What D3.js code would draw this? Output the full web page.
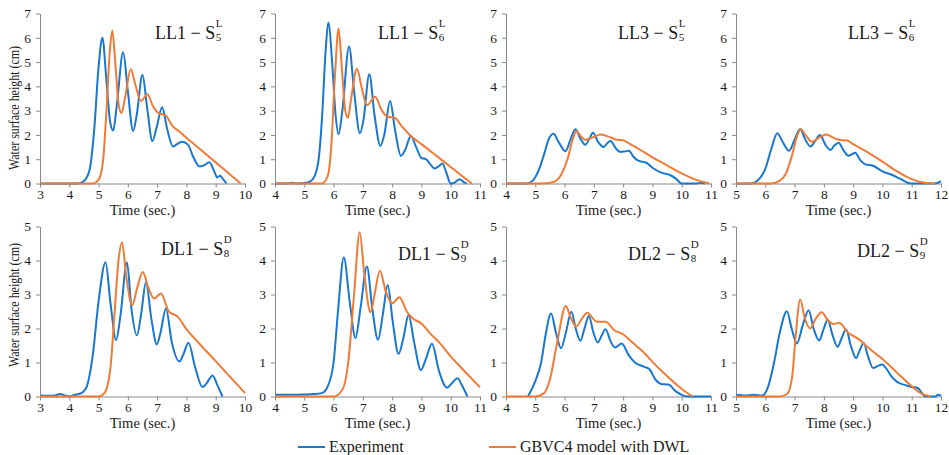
<!DOCTYPE html>
<meta charset="utf-8">
<head>
<style>
  body { margin: 0; background: #fff; }
  svg text { font-family: "Liberation Serif"; fill: #1a1a1a; }
  .axis text { font-family: "Liberation Serif"; font-size: 13.5px; }
  .axis path, .axis line { stroke: #8a8a8a; stroke-width: 1px; }
  .exp { fill: none; stroke: #1877d0; stroke-width: 2px; }
  .model { fill: none; stroke: #f07b36; stroke-width: 2px; }
</style>
<script src="https://d3js.org/d3.v7.min.js"></script>
</head>
<body>
<svg width="949" height="455"></svg>
<script>
// panel names (title = name − S with sub / sup)
var titleNames = ["LL1", "LL1", "LL3", "LL3", "DL1", "DL1", "DL2", "DL2"];
var titleSubs = ["5", "6", "5", "6", "8", "9", "8", "9"];
var titleSups = ["L", "L", "L", "L", "D", "D", "D", "D"];
var xRanges = [[3, 10], [4, 11], [4, 11], [5, 12], [3, 10], [4, 11], [4, 11], [5, 12]];
var yMaxes = [7, 7, 7, 7, 5, 5, 5, 5];

// experiment series [time, height]
var ll1s5Exp = [[3,0],[4.3,0],[4.5,0.1],[4.7,0.6],[4.85,2.2],[5.0,4.8],[5.13,6.0],[5.27,4.2],[5.4,2.5],[5.5,2.18],[5.62,3.2],[5.84,5.4],[6.0,3.8],[6.18,2.16],[6.3,2.8],[6.5,4.48],[6.65,3.2],[6.84,1.75],[6.98,2.3],[7.17,3.14],[7.35,2.2],[7.54,1.52],[7.65,1.6],[7.85,1.72],[8.05,1.6],[8.25,1.05],[8.45,0.7],[8.6,0.75],[8.78,0.87],[8.95,0.5],[9.05,0.25],[9.15,0.32],[9.27,0.15],[9.37,0]];
var ll1s6Exp = [[4,0],[4.5,0.01],[4.6,0.03],[4.75,0],[5.0,0.02],[5.2,0.08],[5.35,0.3],[5.5,1.1],[5.62,3.0],[5.72,5.3],[5.83,6.63],[5.95,5.0],[6.07,2.8],[6.17,2.03],[6.3,3.0],[6.53,5.64],[6.7,3.8],[6.9,2.07],[7.02,2.6],[7.22,4.5],[7.4,2.8],[7.6,1.55],[7.73,2.0],[7.93,3.4],[8.1,2.2],[8.3,1.14],[8.45,1.4],[8.64,1.96],[8.82,1.5],[9.0,1.05],[9.15,1.0],[9.3,0.8],[9.45,0.62],[9.6,0.72],[9.72,0.82],[9.85,0.45],[10.0,0],[10.15,0.05],[10.3,0.18],[10.45,0.05],[10.55,0]];
var ll3s5Exp = [[4,0],[4.7,0],[4.9,0.1],[5.1,0.5],[5.3,1.2],[5.45,1.8],[5.62,2.05],[5.8,1.7],[6.03,1.33],[6.2,1.8],[6.37,2.23],[6.52,1.9],[6.71,1.6],[6.85,1.85],[6.97,2.09],[7.15,1.7],[7.34,1.5],[7.45,1.65],[7.57,1.75],[7.75,1.45],[7.91,1.3],[8.05,1.32],[8.2,1.35],[8.35,1.1],[8.5,0.95],[8.8,0.85],[9.0,0.65],[9.3,0.45],[9.6,0.35],[9.8,0.2],[10.0,0],[10.5,0],[10.65,0.03],[10.8,0]];
var ll3s6Exp = [[5,0],[5.5,0],[5.8,0.2],[6.0,0.6],[6.2,1.4],[6.41,2.07],[6.6,1.7],[6.81,1.35],[7.0,1.8],[7.19,2.24],[7.35,1.85],[7.55,1.52],[7.7,1.75],[7.87,2.0],[8.05,1.6],[8.22,1.38],[8.35,1.55],[8.5,1.68],[8.68,1.35],[8.84,1.14],[8.95,1.2],[9.07,1.27],[9.25,0.95],[9.4,0.8],[9.7,0.72],[10.0,0.5],[10.3,0.37],[10.6,0.2],[10.97,0],[11.8,0],[12,0.1]];
var dl1s8Exp = [[3,0.03],[3.3,0.02],[3.5,0.03],[3.7,0.07],[3.85,0.03],[4.0,0],[4.2,0.05],[4.35,0.08],[4.45,0.12],[4.6,0.3],[4.8,1.2],[5.0,2.8],[5.24,3.95],[5.4,2.8],[5.6,1.66],[5.75,2.4],[5.97,3.94],[6.12,2.6],[6.31,1.8],[6.45,2.4],[6.62,3.37],[6.8,2.3],[6.99,1.53],[7.12,1.9],[7.3,2.59],[7.5,1.6],[7.76,1.03],[7.9,1.25],[8.07,1.58],[8.3,0.85],[8.55,0.27],[8.7,0.4],[8.89,0.62],[9.05,0.35],[9.23,0]];
var dl1s9Exp = [[4,0.05],[4.5,0.05],[5.0,0.06],[5.3,0.07],[5.6,0.1],[5.8,0.3],[6.0,1.0],[6.15,2.5],[6.35,4.09],[6.55,2.8],[6.75,1.72],[6.92,2.6],[7.14,3.82],[7.32,2.6],[7.52,1.67],[7.68,2.4],[7.85,3.28],[8.02,2.2],[8.22,1.25],[8.38,1.7],[8.56,2.4],[8.75,1.6],[8.98,0.78],[9.15,1.1],[9.36,1.55],[9.6,0.75],[9.87,0.26],[10.05,0.4],[10.23,0.54],[10.4,0.3],[10.57,0]];
var dl2s8Exp = [[4.75,0],[5.0,0.45],[5.2,1.0],[5.35,1.8],[5.54,2.44],[5.7,1.9],[5.88,1.42],[6.05,1.9],[6.23,2.49],[6.38,2.0],[6.54,1.64],[6.68,2.0],[6.83,2.37],[6.98,1.9],[7.13,1.59],[7.27,1.8],[7.4,1.98],[7.56,1.65],[7.72,1.44],[7.95,1.56],[8.2,1.2],[8.4,1.0],[8.7,0.88],[8.9,0.8],[9.1,0.5],[9.3,0.37],[9.55,0.35],[9.8,0.15],[10.0,0.05],[10.2,0],[10.9,0],[11,0.01]];
var dl2s9Exp = [[5,0.02],[5.1,0.05],[5.3,0.03],[5.6,0.05],[5.9,0.03],[6.1,0.3],[6.3,1.0],[6.5,1.9],[6.74,2.51],[6.9,2.0],[7.08,1.56],[7.28,2.1],[7.48,2.54],[7.65,2.0],[7.84,1.65],[7.98,1.95],[8.13,2.26],[8.3,1.8],[8.47,1.46],[8.6,1.7],[8.76,1.97],[8.92,1.5],[9.1,1.13],[9.22,1.35],[9.36,1.57],[9.5,1.2],[9.68,0.84],[9.85,0.9],[9.99,0.94],[10.15,0.8],[10.3,0.6],[10.5,0.43],[10.8,0.33],[11.0,0.28],[11.2,0.25],[11.35,0.1],[11.45,0],[11.8,0],[11.9,0.05],[12,0.03]];

// GBVC4 model with DWL series
var ll1s5Model = [[3,0],[4.8,0],[5.0,0.15],[5.15,0.9],[5.27,3.0],[5.38,5.4],[5.47,6.3],[5.57,5.0],[5.68,3.3],[5.78,2.9],[5.9,3.5],[6.1,4.7],[6.25,4.1],[6.45,3.4],[6.67,3.68],[6.85,3.2],[7.05,2.9],[7.3,2.8],[7.5,2.4],[7.8,2.1],[8.0,1.88],[8.5,1.38],[9.0,0.87],[9.5,0.36],[9.85,0]];
var ll1s6Model = [[4,0],[5.6,0],[5.8,0.3],[5.92,1.5],[6.05,4.5],[6.17,6.38],[6.28,4.8],[6.4,3.0],[6.49,2.7],[6.6,3.5],[6.8,4.73],[6.95,4.0],[7.14,3.22],[7.42,3.57],[7.65,3.0],[7.85,2.75],[8.1,2.7],[8.3,2.4],[8.6,2.0],[9.0,1.62],[9.5,1.15],[10.0,0.68],[10.4,0.3],[10.72,0]];
var ll3s5Model = [[4,0],[5.2,0],[5.6,0.05],[5.9,0.4],[6.1,1.0],[6.3,1.9],[6.4,2.16],[6.55,1.95],[6.71,1.8],[7.0,1.92],[7.23,2.02],[7.5,1.93],[7.8,1.8],[8.0,1.78],[8.2,1.65],[8.5,1.45],[9.0,1.08],[9.5,0.75],[10.0,0.42],[10.5,0.15],[10.95,0]];
var ll3s6Model = [[5,0],[6.2,0],[6.5,0.12],[6.7,0.4],[6.9,1.1],[7.1,2.0],[7.21,2.23],[7.4,1.95],[7.59,1.72],[7.85,1.9],[8.08,2.02],[8.3,1.9],[8.5,1.8],[8.8,1.77],[9.0,1.62],[9.5,1.28],[10.0,0.9],[10.5,0.5],[11.0,0.18],[11.5,0.02],[11.8,0]];
var dl1s8Model = [[3,0],[5.0,0],[5.2,0.1],[5.4,0.8],[5.55,2.5],[5.68,4.0],[5.8,4.54],[5.95,3.5],[6.15,2.69],[6.32,3.2],[6.51,3.66],[6.7,3.2],[6.9,2.88],[7.13,3.03],[7.4,2.5],[7.7,2.35],[8.0,1.98],[8.5,1.5],[9.0,1.04],[9.5,0.57],[10,0.1]];
var dl1s9Model = [[4,0],[6.0,0],[6.3,0.2],[6.5,1.0],[6.7,3.0],[6.89,4.83],[7.05,3.6],[7.26,2.48],[7.4,3.0],[7.58,3.7],[7.78,3.1],[8.0,2.74],[8.25,2.92],[8.5,2.5],[8.7,2.3],[9.0,2.15],[9.3,1.85],[9.6,1.6],[10.0,1.18],[10.5,0.72],[11,0.27]];
var dl2s8Model = [[4,0],[5.0,0],[5.3,0.1],[5.5,0.5],[5.75,1.6],[6.04,2.66],[6.22,2.3],[6.4,2.06],[6.6,2.3],[6.77,2.46],[7.1,2.2],[7.4,2.2],[7.7,1.95],[8.0,1.83],[8.3,1.6],[8.7,1.3],[9.0,1.02],[9.5,0.6],[10.0,0.22],[10.37,0]];
var dl2s9Model = [[5,0],[6.5,0],[6.75,0.08],[6.92,0.6],[7.05,1.9],[7.19,2.85],[7.35,2.3],[7.53,2.0],[7.73,2.3],[7.93,2.48],[8.13,2.25],[8.33,2.13],[8.53,2.17],[8.8,1.9],[9.2,1.68],[9.5,1.45],[10.0,1.1],[10.5,0.7],[11.0,0.3],[11.3,0.1],[11.64,0]];

var expSeries = [ll1s5Exp, ll1s6Exp, ll3s5Exp, ll3s6Exp, dl1s8Exp, dl1s9Exp, dl2s8Exp, dl2s9Exp];
var modelSeries = [ll1s5Model, ll1s6Model, ll3s5Model, ll3s6Model, dl1s8Model, dl1s9Model, dl2s8Model, dl2s9Model];
var legendLabels = ["Experiment", "GBVC4 model with DWL"];

// layout
var plotLefts = [40, 275, 506, 736];
var plotW = 205;
var rowTops = [13.5, 226.5], rowBottoms = [183.5, 396.5];
var titleX = [155, 378, 618, 848, 161, 398, 628, 857];
var titleY = [39, 39, 39, 39, 255, 260, 260, 257];

var svg = d3.select("svg");

var makeLine = function(x, y) {
  return d3.line()
    .x(function(d) { return x(d[0]); })
    .y(function(d) { return y(d[1]); })
    .curve(d3.curveMonotoneX);
};

for (var i = 0; i < 8; i++) {
  var row = Math.floor(i / 4), col = i % 4;
  var pLeft = plotLefts[col], pTop = rowTops[row], pBottom = rowBottoms[row];
  var x = d3.scaleLinear().domain(xRanges[i]).range([pLeft, pLeft + plotW]);
  var y = d3.scaleLinear().domain([0, yMaxes[i]]).range([pBottom, pTop]);

  svg.append("g").attr("class", "axis")
    .attr("transform", "translate(0," + pBottom + ")")
    .call(d3.axisBottom(x).tickValues(d3.range(xRanges[i][0], xRanges[i][1] + 1))
      .tickFormat(d3.format("d")).tickSize(4).tickSizeOuter(0).tickPadding(2))
    .attr("font-family", null);

  svg.append("g").attr("class", "axis")
    .attr("transform", "translate(" + pLeft + ",0)")
    .call(d3.axisLeft(y).tickValues(d3.range(0, yMaxes[i] + 1))
      .tickFormat(d3.format("d")).tickSize(4).tickSizeOuter(0).tickPadding(5))
    .attr("font-family", null);

  svg.append("path").datum(expSeries[i]).attr("class", "exp").attr("d", makeLine(x, y));
  svg.append("path").datum(modelSeries[i]).attr("class", "model").attr("d", makeLine(x, y));

  // x axis title
  svg.append("text")
    .attr("x", pLeft + plotW / 2).attr("y", pBottom + 31)
    .attr("text-anchor", "middle").style("font-size", "14.5px")
    .text("Time (sec.)");

  // panel title with stacked super/subscript
  var t = svg.append("text")
    .attr("x", titleX[i]).attr("y", titleY[i])
    .style("font-size", "18px")
    .text(titleNames[i] + " \u2212 S");
  var tw = t.node().getComputedTextLength();
  svg.append("text").attr("x", titleX[i] + tw + 0.5).attr("y", titleY[i] - 12)
    .style("font-size", "11px").text(titleSups[i]);
  svg.append("text").attr("x", titleX[i] + tw + 0.5).attr("y", titleY[i] + 2)
    .style("font-size", "11px").text(titleSubs[i]);

  if (col === 0) {
    var cy = row === 0 ? 108 : 305;
    svg.append("text")
      .attr("transform", "translate(19," + cy + ") rotate(-90)")
      .attr("text-anchor", "middle").style("font-size", "14px")
      .attr("textLength", 124).attr("lengthAdjust", "spacingAndGlyphs")
      .text("Water surface height (cm)");
  }
}

// legend
var legendX = [298, 489];
var legendCls = ["exp", "model"];
legendLabels.forEach(function(lab, k) {
  svg.append("line").attr("class", legendCls[k])
    .attr("x1", legendX[k]).attr("x2", legendX[k] + 27)
    .attr("y1", 447).attr("y2", 447);
  svg.append("text").attr("x", legendX[k] + 31).attr("y", 452)
    .style("font-size", "16px").text(lab);
});
</script>
</body>
